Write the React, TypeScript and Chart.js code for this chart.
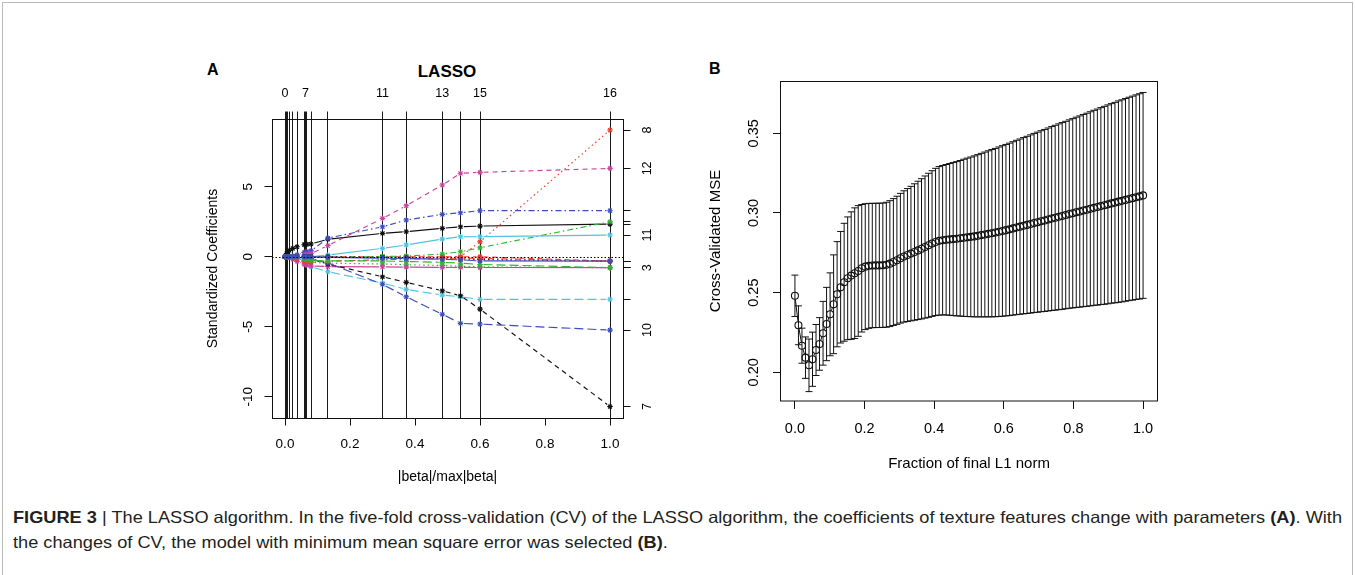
import React, { useEffect, useLayoutEffect, useRef } from "react";
import { Chart, registerables } from "chart.js";

Chart.register(...registerables);

const FONT = "'Liberation Sans', Arial, Helvetica, sans-serif";

// ---------------- Panel A : LASSO coefficient paths ----------------
const stepFraction = [0, 0.005, 0.009, 0.013, 0.024, 0.037, 0.059, 0.063, 0.067, 0.08, 0.132, 0.3, 0.373, 0.484, 0.54, 0.6, 1.0];
const stepLabels = ["0", "", "", "", "", "", "", "7", "", "", "", "11", "", "13", "", "15", "16"];
const fractionTicksA = [0, 0.2, 0.4, 0.6, 0.8, 1.0];
const coefTicksA = [-10, -5, 0, 5];

const coefV1 = [0, 0.22, 0.36, 0.45, 0.6, 0.71, 0.86, 0.88, 0.89, 0.91, 1.25, 1.67, 1.79, 2.03, 2.14, 2.19, 2.33];
const coefV2 = [0, 0, 0, 0, 0, 0, 0, 0, 0, 0, 0, 0, 0, 0, 0, 0, -0.31];
const coefV3 = [0, 0, 0, 0, 0, -0.08, -0.28, -0.31, -0.34, -0.4, -0.46, -0.52, -0.57, -0.62, -0.68, -0.72, -0.78];
const coefV4 = [0, 0, 0, 0, 0.05, 0.13, 0.3, 0.33, 0.36, 0.42, 1.33, 2.14, 2.62, 3.03, 3.14, 3.29, 3.29];
const coefV5 = [0, 0, 0, 0, 0, 0, -0.35, -0.42, -0.5, -0.72, -1.07, -1.88, -2.33, -2.74, -2.86, -3.05, -3.04];
const coefV6 = [0, 0, 0, -0.05, -0.18, -0.33, -0.52, -0.57, -0.6, -0.66, -0.7, -0.72, -0.74, -0.76, -0.76, -0.77, -0.78];
const coefV7 = [0, 0, 0, 0, 0, 0, 0, 0, 0, -0.15, -0.52, -1.43, -1.83, -2.43, -2.79, -3.74, -10.7];
const coefV8 = [0, 0, 0, 0, 0, 0, 0, 0, 0, 0, 0, 0, 0, 0, 0, 1.07, 9.05];
const coefV9 = [0, 0, 0, 0, 0, 0, 0, 0, 0, 0, -0.05, 0.02, 0.05, 0.19, 0.36, 0.64, 2.5];
const coefV10 = [0, 0, 0, 0, 0, 0, -0.05, -0.08, -0.1, -0.15, -0.45, -1.97, -2.86, -4.11, -4.76, -4.81, -5.24];
const coefV11 = [0, 0, 0, 0, 0, 0, 0, 0, 0, 0, 0.12, 0.6, 0.84, 1.26, 1.43, 1.43, 1.55];
const coefV12 = [0, 0, 0, 0, 0, 0.05, 0.12, 0.14, 0.16, 0.22, 0.8, 2.74, 3.64, 5.12, 5.96, 6.03, 6.31];
const coefV13 = [0, 0, 0, 0, 0, 0, 0, 0, 0, 0, 0, -0.05, -0.08, -0.12, -0.15, -0.2, -0.31];
const coefV14 = [0, 0, 0, 0, -0.06, -0.16, -0.3, -0.33, -0.35, -0.37, -0.32, -0.22, -0.16, -0.12, -0.1, -0.12, -0.31];
const coefV15 = [0, 0, 0, 0, 0, -0.04, -0.15, -0.18, -0.2, -0.26, -0.3, -0.3, -0.34, -0.4, -0.46, -0.55, -0.78];
const coefV16 = [0, 0, 0, 0, 0, 0, 0, 0, 0, 0, -0.04, -0.1, -0.13, -0.18, -0.22, -0.3, -0.31];
const endLabels = ["", "", "3", "", "", "", "7", "8", "", "10", "11", "12", "", "", "", ""];

// ---------------- Panel B : cross-validated MSE ----------------
const cvFraction = [
  0, 0.0101, 0.0202, 0.0303, 0.0404, 0.0505, 0.0606, 0.0707, 0.0808, 0.0909,
  0.101, 0.1111, 0.1212, 0.1313, 0.1414, 0.1515, 0.1616, 0.1717, 0.1818, 0.1919,
  0.202, 0.2121, 0.2222, 0.2323, 0.2424, 0.2525, 0.2626, 0.2727, 0.2828, 0.2929,
  0.303, 0.3131, 0.3232, 0.3333, 0.3434, 0.3535, 0.3636, 0.3737, 0.3838, 0.3939,
  0.404, 0.4141, 0.4242, 0.4343, 0.4444, 0.4545, 0.4646, 0.4747, 0.4848, 0.4949,
  0.5051, 0.5152, 0.5253, 0.5354, 0.5455, 0.5556, 0.5657, 0.5758, 0.5859, 0.596,
  0.6061, 0.6162, 0.6263, 0.6364, 0.6465, 0.6566, 0.6667, 0.6768, 0.6869, 0.697,
  0.7071, 0.7172, 0.7273, 0.7374, 0.7475, 0.7576, 0.7677, 0.7778, 0.7879, 0.798,
  0.8081, 0.8182, 0.8283, 0.8384, 0.8485, 0.8586, 0.8687, 0.8788, 0.8889, 0.899,
  0.9091, 0.9192, 0.9293, 0.9394, 0.9495, 0.9596, 0.9697, 0.9798, 0.9899, 1.0,
];
const cvMean = [
  0.248, 0.2295, 0.2167, 0.2092, 0.2044, 0.2082, 0.214, 0.2178, 0.2245, 0.2303,
  0.2364, 0.2427, 0.249, 0.2534, 0.2565, 0.259, 0.2607, 0.2622, 0.2636, 0.2653,
  0.2663, 0.2668, 0.267, 0.2671, 0.2671, 0.2672, 0.2675, 0.2682, 0.2692, 0.2703,
  0.2716, 0.2727, 0.2736, 0.2745, 0.2755, 0.2765, 0.2775, 0.2786, 0.2797, 0.2808,
  0.2818, 0.2825, 0.2829, 0.2832, 0.2834, 0.2836, 0.2838, 0.2841, 0.2844, 0.2847,
  0.285, 0.2853, 0.2857, 0.2861, 0.2865, 0.2869, 0.2873, 0.2877, 0.2882, 0.2887,
  0.2892, 0.2897, 0.2903, 0.2909, 0.2914, 0.292, 0.2925, 0.2931, 0.2937, 0.2942,
  0.2948, 0.2953, 0.2959, 0.2965, 0.297, 0.2976, 0.2981, 0.2987, 0.2993, 0.2998,
  0.3004, 0.3009, 0.3015, 0.302, 0.3026, 0.3032, 0.3037, 0.3043, 0.3048, 0.3054,
  0.306, 0.3065, 0.3071, 0.3076, 0.3082, 0.3088, 0.3093, 0.3099, 0.3104, 0.311,
];
const cvError = [
  0.013, 0.0122, 0.011, 0.013, 0.0165, 0.017, 0.016, 0.0165, 0.02, 0.023,
  0.026, 0.031, 0.033, 0.035, 0.037, 0.0385, 0.04, 0.041, 0.041, 0.04,
  0.0395, 0.0392, 0.039, 0.039, 0.039, 0.039, 0.0392, 0.0395, 0.0398, 0.0402,
  0.0407, 0.0412, 0.0417, 0.0422, 0.0428, 0.0434, 0.044, 0.0446, 0.0452, 0.0457,
  0.0462, 0.0466, 0.0469, 0.0472, 0.0476, 0.048, 0.0484, 0.0488, 0.0493, 0.0497,
  0.0501, 0.0505, 0.0509, 0.0513, 0.0517, 0.0521, 0.0525, 0.0528, 0.0532, 0.0535,
  0.0538, 0.0541, 0.0544, 0.0547, 0.055, 0.0553, 0.0556, 0.0559, 0.0562, 0.0565,
  0.0568, 0.0571, 0.0574, 0.0577, 0.058, 0.0583, 0.0586, 0.0588, 0.0591, 0.0594,
  0.0597, 0.06, 0.0603, 0.0606, 0.0609, 0.0612, 0.0615, 0.0618, 0.0621, 0.0624,
  0.0626, 0.0629, 0.0632, 0.0634, 0.0636, 0.0638, 0.064, 0.0642, 0.0644, 0.0646,
];
const fractionTicksB = [0, 0.2, 0.4, 0.6, 0.8, 1.0];
const mseTicks = [0.2, 0.25, 0.3, 0.35];

// ---------------- styles ----------------
const R_COLS = ["#111111", "#ee3b2b", "#2fb52f", "#3b4cc0", "#4ec3e6", "#c8449e"];
const R_DASH = [[], [5, 4], [1.5, 3], [1.5, 3, 6, 3], [9, 4]];
const coefPaths = [coefV1, coefV2, coefV3, coefV4, coefV5, coefV6, coefV7, coefV8, coefV9, coefV10, coefV11, coefV12, coefV13, coefV14, coefV15, coefV16];

const typeBPlugin = {
  id: "typeB",
  beforeDatasetsDraw(chart: any) {
    const { ctx, chartArea } = chart;
    ctx.save();
    ctx.beginPath();
    ctx.rect(chartArea.left, chartArea.top, chartArea.right - chartArea.left, chartArea.bottom - chartArea.top);
    ctx.clip();
    chart.data.datasets.forEach((ds: any, i: number) => {
      if (!ds.typeB) return;
      const pts = chart.getDatasetMeta(i).data;
      ctx.strokeStyle = ds.lineColor;
      ctx.lineWidth = ds.lineW || 1;
      ctx.setLineDash(ds.lineDash || []);
      const g = ds.gap || 0;
      for (let k = 0; k < pts.length - 1; k++) {
        const a = pts[k];
        const b = pts[k + 1];
        const dx = b.x - a.x;
        const dy = b.y - a.y;
        const d = Math.hypot(dx, dy);
        if (d <= 2 * g + 0.5) continue;
        const ux = dx / d;
        const uy = dy / d;
        ctx.beginPath();
        ctx.moveTo(a.x + ux * g, a.y + uy * g);
        ctx.lineTo(b.x - ux * g, b.y - uy * g);
        ctx.stroke();
      }
    });
    ctx.restore();
  },
};

const zeroLinePlugin = {
  id: "zeroLine",
  afterDatasetsDraw(chart: any) {
    const { ctx, chartArea, scales } = chart;
    const y = scales.y.getPixelForValue(0);
    ctx.save();
    ctx.strokeStyle = "#000";
    ctx.lineWidth = 1;
    ctx.setLineDash([1.5, 2]);
    ctx.beginPath();
    ctx.moveTo(chartArea.left, Math.round(y) + 0.5);
    ctx.lineTo(chartArea.right, Math.round(y) + 0.5);
    ctx.stroke();
    ctx.restore();
  },
};

const errorBarPlugin = {
  id: "errorBars",
  afterDatasetsDraw(chart: any) {
    const { ctx, scales } = chart;
    const xs = scales.x;
    const ys = scales.y;
    ctx.save();
    ctx.strokeStyle = "#111";
    ctx.lineWidth = 1;
    for (let i = 0; i < cvFraction.length; i++) {
      const px = xs.getPixelForValue(cvFraction[i]);
      const w = xs.getPixelForValue(cvFraction[i] + 0.01) - px;
      const up = ys.getPixelForValue(cvMean[i] + cvError[i]);
      const lo = ys.getPixelForValue(cvMean[i] - cvError[i]);
      ctx.beginPath();
      ctx.moveTo(px, up);
      ctx.lineTo(px, lo);
      ctx.moveTo(px - w, up);
      ctx.lineTo(px + w, up);
      ctx.moveTo(px - w, lo);
      ctx.lineTo(px + w, lo);
      ctx.stroke();
    }
    ctx.restore();
  },
};

const boxPlugin = {
  id: "box",
  afterDraw(chart: any) {
    const { ctx, chartArea } = chart;
    ctx.save();
    ctx.strokeStyle = "#111";
    ctx.lineWidth = 1;
    ctx.strokeRect(Math.round(chartArea.left) - 0.5, Math.round(chartArea.top) + 0.5, Math.round(chartArea.right - chartArea.left) + 1, Math.round(chartArea.bottom - chartArea.top) - 0.5);
    ctx.restore();
  },
};

function PanelA() {
  const ref = useRef<HTMLCanvasElement>(null);
  useEffect(() => {
    const datasets: any[] = coefPaths.map((path, j) => ({
      label: `V${j + 1}`,
      data: path.map((v, k) => ({ x: stepFraction[k], y: v })),
      showLine: false,
      pointStyle: "star",
      pointRadius: 2.8,
      pointBorderWidth: 1.1,
      pointBorderColor: R_COLS[j % 6],
      pointBackgroundColor: R_COLS[j % 6],
      borderColor: R_COLS[j % 6],
      typeB: true,
      lineColor: R_COLS[j % 6],
      lineDash: R_DASH[j % 5],
      lineW: 1.15,
      gap: 3.5,
      order: 16 - j,
    }));
    const tickFont = { family: FONT, size: 13.5 };
    const smallFont = { family: FONT, size: 12.5 };
    const titleFont = { family: FONT, size: 14 };
    const chart = new Chart(ref.current as HTMLCanvasElement, {
      type: "scatter",
      data: { datasets },
      plugins: [typeBPlugin, zeroLinePlugin],
      options: {
        responsive: false,
        animation: false,
        devicePixelRatio: 1,
        events: [],
        layout: { padding: 0 },
        plugins: { legend: { display: false }, tooltip: { enabled: false } },
        scales: {
          x: {
            type: "linear",
            position: "bottom",
            min: -0.04,
            max: 1.04,
            afterBuildTicks: (s: any) => {
              s.ticks = fractionTicksA.map((v) => ({ value: v }));
            },
            afterFit: (s: any) => {
              s.height = 77;
            },
            ticks: { autoSkip: false, maxRotation: 0, minRotation: 0, padding: 11, color: "#000", font: tickFont, callback: (v: any) => Number(v).toFixed(1) },
            grid: { drawOnChartArea: false, drawTicks: true, tickLength: 7.5, color: "#111" },
            border: { display: true, color: "#111" },
            title: { display: true, text: "|beta|/max|beta|", color: "#000", font: titleFont, padding: { top: 0, bottom: 9.6 } },
          },
          xTop: {
            type: "linear",
            position: "top",
            min: -0.04,
            max: 1.04,
            afterBuildTicks: (s: any) => {
              s.ticks = stepFraction.map((v) => ({ value: v }));
            },
            afterFit: (s: any) => {
              s.height = 39;
            },
            ticks: { autoSkip: false, maxRotation: 0, minRotation: 0, padding: 10.3, color: "#000", font: smallFont, callback: (_v: any, i: number) => stepLabels[i] },
            grid: { drawOnChartArea: true, drawTicks: true, tickLength: 7.5, color: "#1a1a1a", lineWidth: 1 },
            border: { display: true, color: "#111" },
          },
          y: {
            type: "linear",
            position: "left",
            min: -11.52,
            max: 9.84,
            afterBuildTicks: (s: any) => {
              s.ticks = coefTicksA.map((v) => ({ value: v }));
            },
            afterFit: (s: any) => {
              s.width = 82;
            },
            ticks: { autoSkip: false, minRotation: 90, maxRotation: 90, crossAlign: "center", padding: 6, color: "#000", font: tickFont, callback: (v: any) => String(v) },
            grid: { drawOnChartArea: false, drawTicks: true, tickLength: 7.5, color: "#111" },
            border: { display: true, color: "#111" },
            title: { display: true, text: "Standardized Coefficients", color: "#000", font: titleFont, padding: { top: 14.6, bottom: 0 } },
          },
          yRight: {
            type: "linear",
            position: "right",
            min: -11.52,
            max: 9.84,
            afterBuildTicks: (s: any) => {
              s.ticks = coefPaths.map((p) => ({ value: p[p.length - 1] }));
            },
            afterFit: (s: any) => {
              s.width = 47;
            },
            ticks: { autoSkip: false, minRotation: 90, maxRotation: 90, crossAlign: "center", padding: 10.5, color: "#000", font: smallFont, callback: (_v: any, i: number) => endLabels[i] },
            grid: { drawOnChartArea: false, drawTicks: true, tickLength: 7.5, color: "#111" },
            border: { display: true, color: "#111" },
          },
        },
      } as any,
    });
    return () => chart.destroy();
  }, []);
  return <canvas ref={ref} width={480} height={415} style={{ position: "absolute", left: 190, top: 80, width: 480, height: 415 }} />;
}

function PanelB() {
  const ref = useRef<HTMLCanvasElement>(null);
  useEffect(() => {
    const tickFont = { family: FONT, size: 14.5 };
    const titleFont = { family: FONT, size: 15 };
    const chart = new Chart(ref.current as HTMLCanvasElement, {
      type: "scatter",
      data: {
        datasets: [
          {
            label: "CV",
            data: cvFraction.map((x, i) => ({ x, y: cvMean[i] })),
            showLine: false,
            pointStyle: "circle",
            pointRadius: 3.5,
            pointBorderWidth: 1.1,
            pointBorderColor: "#111",
            pointBackgroundColor: "rgba(0,0,0,0)",
            typeB: true,
            lineColor: "#111",
            lineDash: [],
            gap: 3.8,
          } as any,
        ],
      },
      plugins: [typeBPlugin, errorBarPlugin, boxPlugin],
      options: {
        responsive: false,
        animation: false,
        devicePixelRatio: 1,
        events: [],
        layout: { padding: { top: 41, right: 33, left: 0, bottom: 0 } },
        plugins: { legend: { display: false }, tooltip: { enabled: false } },
        scales: {
          x: {
            type: "linear",
            position: "bottom",
            min: -0.04,
            max: 1.04,
            afterBuildTicks: (s: any) => {
              s.ticks = fractionTicksB.map((v) => ({ value: v }));
            },
            afterFit: (s: any) => {
              s.height = 84;
            },
            ticks: { autoSkip: false, maxRotation: 0, minRotation: 0, padding: 11.3, color: "#000", font: tickFont, callback: (v: any) => Number(v).toFixed(1) },
            grid: { drawOnChartArea: false, drawTicks: true, tickLength: 8, color: "#111" },
            border: { display: false },
            title: { display: true, text: "Fraction of final L1 norm", color: "#000", font: titleFont, padding: { top: 0, bottom: 12 } },
          },
          y: {
            type: "linear",
            position: "left",
            min: 0.182,
            max: 0.3828,
            afterBuildTicks: (s: any) => {
              s.ticks = mseTicks.map((v) => ({ value: v }));
            },
            afterFit: (s: any) => {
              s.width = 91;
            },
            ticks: { autoSkip: false, minRotation: 90, maxRotation: 90, crossAlign: "center", padding: 4.6, color: "#000", font: tickFont, callback: (v: any) => Number(v).toFixed(2) },
            grid: { drawOnChartArea: false, drawTicks: true, tickLength: 8, color: "#111" },
            border: { display: false },
            title: { display: true, text: "Cross-Validated MSE", color: "#000", font: titleFont, padding: { top: 17, bottom: 0 } },
          },
        },
      } as any,
    });
    return () => chart.destroy();
  }, []);
  return <canvas ref={ref} width={500} height={445} style={{ position: "absolute", left: 690, top: 40, width: 500, height: 445 }} />;
}

function Caption() {
  const l1 = useRef<HTMLDivElement>(null);
  const l2 = useRef<HTMLDivElement>(null);
  useLayoutEffect(() => {
    const a = l1.current;
    const b = l2.current;
    if (!a || !b) return;
    const k = 1329 / a.offsetWidth;
    a.style.transform = `scaleX(${k})`;
    b.style.transform = `scaleX(${k})`;
  }, []);
  const lineStyle: React.CSSProperties = {
    whiteSpace: "nowrap",
    width: "max-content",
    transformOrigin: "0 0",
    height: 25,
    lineHeight: "25px",
  };
  return (
    <div style={{ position: "absolute", left: 13, top: 504.5, fontFamily: FONT, fontSize: 16.5, color: "#231f20" }}>
      <div ref={l1} style={lineStyle}>
        <b>FIGURE 3</b> | The LASSO algorithm. In the five-fold cross-validation (CV) of the LASSO algorithm, the coefficients of texture features change with parameters <b>(A)</b>. With
      </div>
      <div ref={l2} style={lineStyle}>
        the changes of CV, the model with minimum mean square error was selected <b>(B)</b>.
      </div>
    </div>
  );
}

export default function App() {
  const bold = (size: number): React.CSSProperties => ({ position: "absolute", fontFamily: FONT, fontWeight: "bold", fontSize: size, lineHeight: `${size}px`, color: "#000" });
  return (
    <div style={{ position: "fixed", left: 0, top: 0, width: 1355, height: 575, overflow: "hidden", background: "#fff" }}>
      <div style={{ position: "absolute", left: 2, top: 2, width: 1349, height: 700, border: "1px solid #b9b9b9" }} />
      <div style={{ ...bold(16), left: 207, top: 61.5 }}>A</div>
      <div style={{ ...bold(17), left: 387, width: 120, textAlign: "center", top: 62.6 }}>LASSO</div>
      <div style={{ ...bold(16), left: 709, top: 60.8 }}>B</div>
      <PanelA />
      <PanelB />
      <Caption />
    </div>
  );
}
